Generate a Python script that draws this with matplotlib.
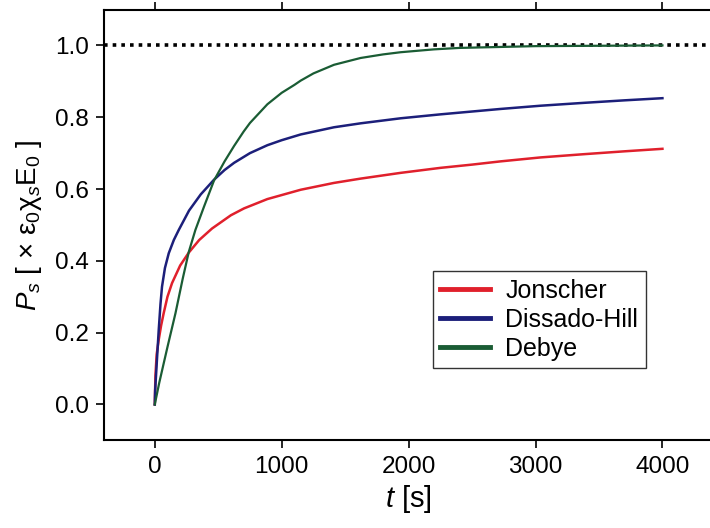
import matplotlib
matplotlib.use("Agg")
import matplotlib.pyplot as plt

plt.rcParams['font.family'] = ['Liberation Sans', 'DejaVu Sans']
plt.rcParams['mathtext.fontset'] = 'custom'
plt.rcParams['mathtext.rm'] = 'Liberation Sans'
plt.rcParams['mathtext.it'] = 'Liberation Sans:italic'

# values (t in s, P_s normalised)
t_jon = [0, 5, 15, 31, 50, 70, 100, 136, 200, 268, 350, 451, 600, 703, 887,
         1150, 1412, 1622, 1937, 2252, 2500, 2724, 3039, 3380, 3700, 4000]
p_jon = [0, 0.08, 0.14, 0.18, 0.22, 0.254, 0.30, 0.338, 0.387, 0.423, 0.458, 0.49, 0.527, 0.546, 0.572,
         0.598, 0.617, 0.629, 0.645, 0.659, 0.668, 0.677, 0.688, 0.697, 0.705, 0.712]

t_dh = [0, 3, 8, 18, 31, 45, 57, 80, 110, 150, 189, 270, 362, 467, 550, 625, 750, 887,
        1000, 1150, 1412, 1622, 1937, 2252, 2724, 3039, 3380, 3700, 4000]
p_dh = [0, 0.04, 0.07, 0.13, 0.207, 0.28, 0.328, 0.38, 0.421, 0.458, 0.486, 0.54, 0.585, 0.626, 0.653, 0.673, 0.700, 0.722,
        0.736, 0.752, 0.772, 0.783, 0.797, 0.808, 0.823, 0.832, 0.840, 0.847, 0.853]

t_deb = [0, 35, 70, 100, 163, 220, 268, 320, 388, 467, 550, 625, 700, 750, 887, 1000,
         1100, 1150, 1250, 1412, 1622, 1800, 1937, 2200, 2400, 3000, 3500, 4000]
p_deb = [0, 0.06, 0.114, 0.16, 0.254, 0.35, 0.425, 0.486, 0.551, 0.624, 0.677, 0.72, 0.76, 0.784, 0.836, 0.868,
         0.89, 0.902, 0.922, 0.946, 0.965, 0.975, 0.981, 0.989, 0.993, 0.998, 0.999, 1.0]

xticks = [0, 1000, 2000, 3000, 4000]
yticks = [0.0, 0.2, 0.4, 0.6, 0.8, 1.0]

fig = plt.figure(figsize=(7.1, 5.28), dpi=100)
ax = fig.add_axes([0.1465, 0.166, 0.858, 0.816])

ax.axhline(1.0, color='black', linestyle=(0, (1, 1.4)), linewidth=2.6, zorder=1)
ax.plot(t_jon, p_jon, color='#e0202c', lw=1.8, label='Jonscher', zorder=3)
ax.plot(t_dh, p_dh, color='#1c1f7a', lw=1.8, label='Dissado-Hill', zorder=3)
ax.plot(t_deb, p_deb, color='#1a5c34', lw=1.6, label='Debye', zorder=3)

ax.set_xlim(-400, 4400)
ax.set_ylim(-0.1, 1.1)
ax.set_xticks(xticks)
ax.set_xticklabels([str(v) for v in xticks])
ax.set_yticks(yticks)
ax.set_yticklabels(['%.1f' % v for v in yticks])
ax.tick_params(direction='out', length=6, width=1.2, labelsize=17.5, pad=5,
               top=True, right=True)

for s in ax.spines.values():
    s.set_linewidth(1.5)

ax.set_xlabel(r'$t$ [s]', fontsize=21, labelpad=4)
ax.set_ylabel(r'$P_s$ [ × ε$_0$χ$_s$E$_0$ ]', fontsize=20, labelpad=8)

leg = ax.legend(loc='upper left', bbox_to_anchor=(0.54, 0.393), borderaxespad=0,
                fontsize=18, frameon=True, fancybox=False, edgecolor='black',
                handlelength=2.0, handletextpad=0.6, labelspacing=0.2,
                borderpad=0.3)
leg.get_frame().set_linewidth(1.0)
for ln in leg.get_lines():
    ln.set_linewidth(3.5)

fig.savefig('out.png', dpi=100)
